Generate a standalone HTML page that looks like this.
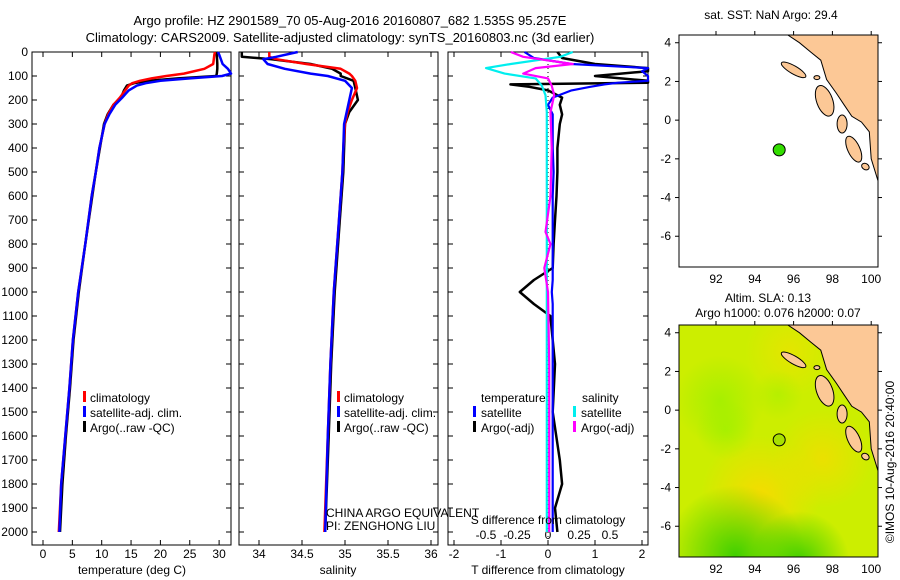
<!DOCTYPE html>
<html><head><meta charset="utf-8">
<style>
html,body{margin:0;padding:0;background:#fff;width:900px;height:580px;overflow:hidden;}
svg{display:block;font-family:"Liberation Sans",sans-serif;}
text{font-size:12px;fill:#000;}
</style></head>
<body>
<svg id="chart" width="900" height="580" viewBox="0 0 900 580">
<text x="350" y="25" text-anchor="middle" style="font-size:13px">Argo profile: HZ 2901589_70 05-Aug-2016 20160807_682 1.535S 95.257E</text>
<text x="340" y="42" text-anchor="middle" style="font-size:13px">Climatology: CARS2009. Satellite-adjusted climatology: synTS_20160803.nc (3d earlier)</text>
<g id="g"></g>
</svg>
<script>
// ---------- data ----------
const depthTicks=[0,100,200,300,400,500,600,700,800,900,1000,1100,1200,1300,1400,1500,1600,1700,1800,1900,2000];
const tempTicks=[0,5,10,15,20,25,30];
const salTicks=[34,34.5,35,35.5,36];
const tdiffTicks=[-2,-1,0,1,2];
const sdiffTicks=[-0.5,-0.25,0,0.25,0.5];
const lonTicks=[92,94,96,98,100];
const latTicks=[4,2,0,-2,-4,-6];

const tempDepth=[0,10,50,70,90,100,110,120,130,140,160,190,220,260,300,400,500,600,800,1000,1200,1400,1600,1800,2000];
const tempArgo =[29.5,29.6,29.7,29.7,29.6,29.5,23,18,15.5,14.3,13.8,13.3,12.0,11.0,10.4,9.7,9.0,8.4,7.2,6.1,5.2,4.6,3.9,3.3,2.9];
const tempClim =[29.3,29.2,29.0,27.5,24,21,18.5,16.5,15.2,14.6,14.0,13.1,12.0,11.1,10.5,9.6,9.0,8.3,7.2,6.0,5.1,4.5,3.8,3.1,2.7];
const tempSat  =[29.8,30.0,30.6,31.5,32.2,30.5,25,20,17.5,16.0,14.6,13.5,12.3,11.3,10.5,9.6,9.0,8.3,7.2,6.0,5.1,4.5,3.8,3.1,2.8];

const salDepth=[0,20,30,50,70,90,100,120,150,200,250,300,400,500,700,1000,1300,1600,2000];
const salArgo =[33.8,33.8,34.15,34.6,34.85,34.95,34.95,35.1,35.12,35.15,35.05,35.0,34.99,34.98,34.94,34.88,34.84,34.81,34.77];
const salClim =[34.12,34.12,34.2,34.55,34.95,35.05,35.08,35.12,35.14,35.08,35.03,35.0,34.98,34.97,34.93,34.87,34.83,34.8,34.76];
const salSat  =[34.45,34.2,34.05,34.1,34.3,34.6,34.8,35.0,35.08,35.05,35.02,34.99,34.98,34.97,34.93,34.87,34.83,34.8,34.77];

const tdDepth=[0,25,50,67,80,100,120,128,135,145,160,190,220,260,300,400,500,600,700,800,900,950,1000,1050,1100,1200,1300,1500,1700,1800,1900,2000];
const tdArgo =[0.2,0.3,1.0,3.2,3.2,1.0,3.2,3.2,-0.8,-0.4,0.0,0.3,0.25,0.3,0.25,0.2,0.2,0.18,0.15,0.12,0.1,-0.3,-0.6,-0.3,0.05,0.1,0.15,0.1,0.25,0.3,0.15,0.2];
const tdSat  =[-0.5,-0.3,0.5,3.2,2.0,3.2,2.5,1.5,1.2,0.9,0.5,0.1,0.0,0.1,0.1,0.1,0.12,0.1,0.1,0.1,0.1,0.1,0.08,0.1,0.1,0.1,0.1,0.1,0.1,0.1,0.1,0.1];
const sdDepth=[0,20,50,67,90,110,140,180,250,400,600,750,800,900,1000,1300,1600,2000];
const sdSat  =[0.2,0.1,-0.3,-0.5,-0.35,-0.1,-0.05,-0.02,-0.01,-0.01,-0.01,-0.01,-0.01,-0.01,-0.01,-0.01,-0.01,-0.01];
const sdArgo =[-0.3,-0.2,0.2,-0.1,-0.2,0.0,0.03,0.05,0.02,0.03,0.02,-0.02,0.02,-0.03,0.0,0.01,0.01,0.01];

const argoLon=95.257, argoLat=-1.535;
const coastLon=[95.7,96.3,96.9,97.4,97.7,98.2,98.6,99.0,99.5,99.9,100.0,100.4,100.4,95.7];
const coastLat=[4.4,4.0,3.5,3.1,2.1,1.4,0.8,0.2,-0.1,-0.6,-2.0,-3.3,4.4,4.4];

// ---------- helpers ----------
const NS='http://www.w3.org/2000/svg';
const G=document.getElementById('g');
function mk(tag,attrs,parent){const e=document.createElementNS(NS,tag);for(const k in attrs)e.setAttribute(k,attrs[k]);(parent||G).appendChild(e);return e;}
const yD=d=>52+d*0.24;
const PB=545;

function panel(x0,x1,name){
  const r=mk('rect',{x:x0,y:52,width:x1-x0,height:PB-52,fill:'none',stroke:'#000','stroke-width':1});
  
  
  depthTicks.forEach(d=>{
    mk('line',{x1:x0,x2:x0+5,y1:yD(d),y2:yD(d),stroke:'#000'});
    mk('line',{x1:x1-5,x2:x1,y1:yD(d),y2:yD(d),stroke:'#000'});
  });
}
function xTicks(vals,fx,y,labels,name){
  vals.forEach((v,i)=>{
    mk('line',{x1:fx(v),x2:fx(v),y1:PB,y2:PB-5,stroke:'#000'});
    mk('line',{x1:fx(v),x2:fx(v),y1:52,y2:57,stroke:'#000'});
    if(labels){const t=mk('text',{x:fx(v),y:y,'text-anchor':'middle'});t.textContent=String(v);
      
      }
  });
}
function line(depths,vals,fx,color,w,name,x0,x1){
  const pts=depths.map((d,i)=>Math.max(x0,Math.min(x1,fx(vals[i]))).toFixed(1)+','+yD(d).toFixed(1)).join(' ');
  const p=mk('polyline',{points:pts,fill:'none',stroke:color,'stroke-width':w,'stroke-linejoin':'round'});
  
  
}
function label(x,y,txt,name,anchor){const t=mk('text',{x:x,y:y,'text-anchor':anchor||'start'});t.textContent=txt;
  
  return t;}
function bar(x,y,c){mk('rect',{x:x,y:y-10,width:3,height:11,fill:c});}

depthTicks.forEach(d=>{label(28,yD(d)+4,String(d),'depth-tick-label','end');});

// panel 1 temperature
const fT=v=>43+v*5.87;
panel(32,231,'temperature-panel');
xTicks(tempTicks,fT,558,true,'temperature');
line(tempDepth,tempArgo,fT,'#000',2.5,'temp-argo-line',32,231);
line(tempDepth,tempClim,fT,'#f00',2.5,'temp-climatology-line',32,231);
line(tempDepth,tempSat,fT,'#00f',2.5,'temp-satellite-line',32,231);
label(132,574,'temperature (deg C)','temperature-axis-title','middle');
bar(83,401,'#f00');label(90,402,'climatology','legend-climatology');
bar(83,416,'#00f');label(90,417,'satellite-adj. clim.','legend-satellite');
bar(83,431,'#000');label(90,432,'Argo(..raw -QC)','legend-argo');

// panel 2 salinity
const fS=v=>259+(v-34)*86;
panel(239,438,'salinity-panel');
xTicks(salTicks,fS,558,true,'salinity');
line(salDepth,salArgo,fS,'#000',2.5,'sal-argo-line',239,438);
line(salDepth,salClim,fS,'#f00',2.5,'sal-climatology-line',239,438);
line(salDepth,salSat,fS,'#00f',2.5,'sal-satellite-line',239,438);
label(338,574,'salinity','salinity-axis-title','middle');
bar(337,401,'#f00');label(344,402,'climatology','legend-climatology-2');
bar(337,416,'#00f');label(344,417,'satellite-adj. clim.','legend-satellite-2');
bar(337,431,'#000');label(344,432,'Argo(..raw -QC)','legend-argo-2');
label(326,517,'CHINA ARGO EQUIVALENT','pi-institution');
label(326,530,'PI: ZENGHONG LIU','pi-name');

// panel 3 differences
const fTd=v=>548+v*47;
const fSd=v=>548+v*124;
panel(448,648,'difference-panel');
xTicks(tdiffTicks,fTd,558,true,'tdiff');
sdiffTicks.forEach(v=>{label(fSd(v),539,String(v),'sdiff-tick-label','middle');});
mk('line',{x1:548,x2:548,y1:52,y2:PB,stroke:'#000','stroke-dasharray':'1,3'});
line(tdDepth,tdArgo,fTd,'#000',2.5,'tdiff-argo-line',448,648);
line(tdDepth,tdSat,fTd,'#00f',2.2,'tdiff-satellite-line',448,648);
line(sdDepth,sdSat,fSd,'#0ee',2.2,'sdiff-satellite-line',448,648);
line(sdDepth,sdArgo,fSd,'#f0f',2.2,'sdiff-argo-line',448,648);
label(481,402,'temperature','legend-temperature-header');
label(582,402,'salinity','legend-salinity-header');
bar(473,416,'#00f');label(481,417,'satellite','legend-t-satellite');
bar(473,431,'#000');label(481,432,'Argo(-adj)','legend-t-argo');
bar(573,416,'#0ee');label(581,417,'satellite','legend-s-satellite');
bar(573,431,'#f0f');label(581,432,'Argo(-adj)','legend-s-argo');
label(548,524,'S difference from climatology','sdiff-axis-title','middle');
label(548,574,'T difference from climatology','tdiff-axis-title','middle');

// ---------- maps ----------
const fLon=v=>716+(v-92)*19.4;
function mapPanel(top,name,bg){
  const fLat=v=>top+(4.4-v)*19.35;
  const cid='clip'+top;
  const cp=mk('clipPath',{id:cid});mk('rect',{x:679,y:top,width:199,height:232},cp);
  const g=mk('g',{'clip-path':'url(#'+cid+')'});
  
  
  if(bg){
    const defs=mk('defs',{});
    const blobs=[[94.3,-4.4,60,'#ffd700',0.8],[97.5,-2.5,50,'#ffd700',0.6],[95.8,3.0,45,'#f4e000',0.6],[92.2,0.5,45,'#8ef000',0.6],[92.5,-1.0,30,'#90f000',0.5],[95.2,0.8,25,'#a0f000',0.5],[93,-7.5,70,'#33cc00',0.9],[96.3,-7.8,50,'#33cc00',0.9]];
    mk('rect',{x:679,y:top,width:199,height:232,fill:'#ccee00'},g);
    blobs.forEach((b,i)=>{
      const rg=mk('radialGradient',{id:'rg'+i},defs);
      mk('stop',{offset:'0','stop-color':b[3],'stop-opacity':b[4]},rg);
      mk('stop',{offset:'1','stop-color':b[3],'stop-opacity':0},rg);
      mk('circle',{cx:fLon(b[0]),cy:fLat(b[1]),r:b[2],fill:'url(#rg'+i+')'},g);
    });
    mk('polygon',{points:'790,'+top+' 878,'+top+' 878,'+(top+75)+' 820,'+top,fill:'#77ee00'},g);
  }
  const cpts=coastLon.map((v,i)=>fLon(v).toFixed(1)+','+fLat(coastLat[i]).toFixed(1)).join(' ');
  const land=mk('polygon',{points:cpts,fill:'#fcc896',stroke:'#000','stroke-width':1},g);
  
  
  const isl=[[96.0,2.6,14,4,30],[97.6,1.0,8,16,-20],[98.5,-0.2,5,9,0],[99.1,-1.5,6,14,-25],[99.7,-2.4,4,3,30],[97.2,2.2,3,2,0]];
  isl.forEach(s=>mk('ellipse',{cx:fLon(s[0]),cy:fLat(s[1]),rx:s[2],ry:s[3],transform:'rotate('+s[4]+' '+fLon(s[0])+' '+fLat(s[1])+')',fill:'#fcc896',stroke:'#000'},g));
  const pt=mk('circle',{cx:fLon(argoLon),cy:fLat(argoLat),r:6,fill:bg?'#a8e000':'#33dd00',stroke:'#000'});
  
  
  const fr=mk('rect',{x:679,y:top,width:199,height:232,fill:'none',stroke:'#000'});
  
  
  lonTicks.forEach(v=>{mk('line',{x1:fLon(v),x2:fLon(v),y1:top,y2:top-4,stroke:'#000'});
    label(fLon(v),top+232+16,String(v),name+'-lon-label','middle');});
  latTicks.forEach(v=>{mk('line',{x1:679,x2:675,y1:fLat(v),y2:fLat(v),stroke:'#000'});
    mk('line',{x1:878,x2:882,y1:fLat(v),y2:fLat(v),stroke:'#000'});
    label(671,fLat(v)+4,String(v),name+'-lat-label','end');});
}
mapPanel(35,'sst-map',false);
mapPanel(325,'sla-map',true);
label(771,19,'sat. SST: NaN Argo: 29.4','sst-map-title','middle');
label(768,302,'Altim. SLA: 0.13','sla-map-title','middle');
label(778,317,'Argo h1000: 0.076 h2000: 0.07','sla-map-subtitle','middle');
const rt=label(0,0,'©IMOS 10-Aug-2016 20:40:00','imos-timestamp','middle');
rt.setAttribute('transform','translate(894,462) rotate(-90)');
</script>
</body></html>
